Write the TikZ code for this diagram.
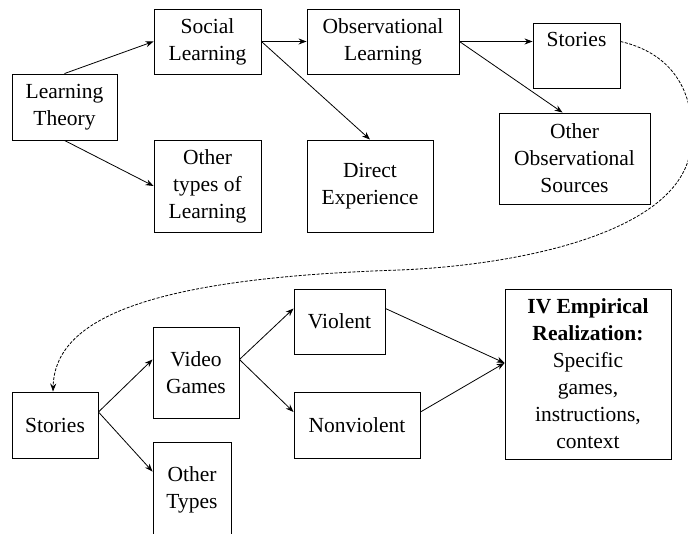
\documentclass[tikz,border=0pt]{standalone}
\usepackage{fontspec}
\setmainfont{Liberation Serif}
\usetikzlibrary{arrows.meta}
\tikzset{
  box/.style={draw, line width=0.9pt, align=center, inner sep=0.75pt, font=\fontsize{21.5}{27}\selectfont},
  link/.style={line width=0.8pt, -{Stealth[length=8pt,width=6pt]}},
}

\begin{document}
\begin{tikzpicture}[x=1pt,y=1pt,yscale=1,xscale=1]
\useasboundingbox (0,0) rectangle (688,533);
%Upper row
\node [box, minimum width=105pt, minimum height=66pt] (theory) at (64.5,426) {Learning\\Theory};
\node [box, minimum width=107pt, minimum height=65pt] (social) at (207.5,491.5) {Social\\Learning};
\node [box, minimum width=107pt, minimum height=92pt] (othertypes) at (207.5,347) {Other\\types of\\Learning};
\node [box, minimum width=152pt, minimum height=65pt] (observ) at (383,491.5) {Observational\\Learning};
\node [box, minimum width=126pt, minimum height=92pt] (direct) at (370,347) {Direct\\Experience};
\node [box, minimum width=87pt, inner ysep=9pt, text height=14pt, text depth=33pt, anchor=north] (storiesA) at (576.5,510) {Stories};
\node [box, minimum width=151pt, minimum height=91pt] (otherobs) at (574.5,374.5) {Other\\Observational\\Sources};
%Lower row
\node [box, minimum width=86pt, minimum height=66pt] (storiesB) at (55,108) {Stories};
\node [box, minimum width=86pt, minimum height=91pt] (games) at (196,160.5) {Video\\Games};
\node [box, minimum width=78pt, minimum height=95pt] (othertypesB) at (192,43.5) {Other\\Types};
\node [box, minimum width=91pt, minimum height=65pt] (violent) at (339.5,211.5) {Violent};
\node [box, minimum width=126pt, minimum height=66pt] (nonviolent) at (357,108) {Nonviolent};
\node [box, minimum width=166pt, minimum height=170pt] (iv) at (588,159) {\textbf{IV Empirical}\\\textbf{Realization:}\\Specific\\games,\\instructions,\\context};
%Arrows
\draw [link] (theory.north) -- (social.west);
\draw [link] (theory.south) -- (othertypes.west);
\draw [link] (social.east) -- (observ.west);
\draw [link] (social.east) -- (direct.north);
\draw [link] (observ.east) -- (observ.east -| storiesA.west);
\draw [link] (observ.east) -- ([xshift=-12pt]otherobs.north);
\coordinate (bend) at (storiesA.east |- observ.east);
\draw [link, dash pattern=on 3pt off 1.5pt] (bend) .. controls (680,478) and (698,430) .. (690,380) .. controls (675,300) and (520,268) .. (400,263) .. controls (150,255) and (55,215) .. ([xshift=-2pt]storiesB.north);
\draw [link] ([yshift=13pt]storiesB.east) -- ([yshift=13pt]games.west);
\draw [link] ([yshift=13pt]storiesB.east) -- ([yshift=-30pt]othertypesB.north west);
\draw [link] ([yshift=13pt]games.east) -- ([yshift=13pt]violent.west);
\draw [link] ([yshift=13pt]games.east) -- ([yshift=13pt]nonviolent.west);
\draw [link] ([yshift=13pt]violent.east) -- ([yshift=11pt]iv.west);
\draw [link] ([yshift=13pt]nonviolent.east) -- ([yshift=11pt]iv.west);
\end{tikzpicture}
\end{document}
